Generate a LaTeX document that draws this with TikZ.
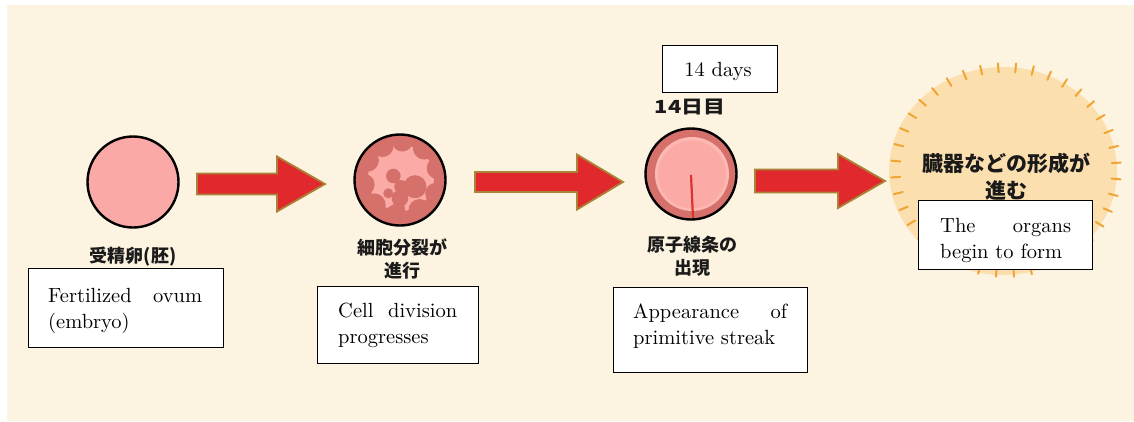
\documentclass[tikz,border=0pt]{standalone}
\usepackage{fontspec}
\newfontfamily\jpfont{Noto Sans CJK JP}
\newfontfamily\boxfont{lmroman10-regular}[Extension=.otf]
\usetikzlibrary{shapes.geometric}

\definecolor{cream}{HTML}{FDF3E1}
\definecolor{ovumpink}{HTML}{FBA9A6}
\definecolor{cellred}{HTML}{D5706B}
\definecolor{palepink}{HTML}{FBAAA5}
\definecolor{paleedge}{HTML}{FCB9B3}
\definecolor{arrowred}{HTML}{E1282D}
\definecolor{arrowedge}{HTML}{A98436}
\definecolor{streakred}{HTML}{D9342E}
\definecolor{sunfill}{HTML}{FCDFAE}
\definecolor{suntick}{HTML}{F0A433}
\definecolor{jpink}{HTML}{1A1A1A}

% block arrow: start x, head x, tip x, centre y, half shaft, half head
\newcommand\blockarrow[6]{%
  \draw[bigarrow] (#1,#4-#5) -- (#2,#4-#5) -- (#2,#4-#6) -- (#3,#4)
    -- (#2,#4+#6) -- (#2,#4+#5) -- (#1,#4+#5) -- cycle;}

\begin{document}
\begin{tikzpicture}[x=1pt,y=-1pt,
  textbox/.style={draw=black, line width=1.2pt, fill=white, anchor=north west, inner sep=0pt},
  boxtext/.style={anchor=base west, inner sep=0pt, align=left,
    font=\boxfont\fontsize{20.5}{26}\selectfont},
  jplabel/.style={font=\jpfont\bfseries\fontsize{18}{23}\selectfont, text=jpink,
    align=center, inner sep=0pt},
  cell/.style={draw=black, line width=2.4pt, circle, minimum size=91pt, inner sep=0pt},
  bigarrow/.style={fill=arrowred, draw=arrowedge, line width=1.8pt, line join=miter},
  tick/.style={draw=suntick, line width=2pt, line cap=round}]

\useasboundingbox (0,0) rectangle (1134,421);
\fill[white] (0,0) rectangle (1134,421);
\fill[cream] (7,5) rectangle (1134,421);

% ---- stage 1: fertilized ovum
\node[cell, fill=ovumpink] (c1) at (133,182) {};
\node[jplabel] (l1) at (133,257) {受精卵(胚)};
\node[textbox, minimum width=195pt, minimum height=79pt] (b1) at (28,268) {};
\node[boxtext, text width=154pt] (t1) at (48,302) {Fertilized\hfill ovum\\(embryo)};

% ---- stage 2: cleavage
\node[cell, fill=cellred] (c2) at (400,180) {};
\coordinate (burst) at (401,178);
\begin{scope}
  \clip (c2.center) circle[radius=43pt];
  \fill[palepink] (burst) circle[radius=33pt];
  \foreach \a/\d/\r in {15/38/11, 52/38/11.5, 88/37/10.5, 120/37/11, 152/38/11.5,
                        190/38/11, 225/38/11.5, 262/38/11, 300/37/11, 336/38/10.5}
    \fill[cellred] ([shift={(\a:\d pt)}]burst) circle[radius=\r pt];
  \fill[cellred] (393.3,176) circle[radius=7.3pt];
  \fill[cellred] (415,186.7) circle[radius=11.5pt];
  \fill[cellred] (401,186.7) circle[radius=6.7pt];
  \fill[cellred] (388.3,193.3) circle[radius=5pt];
  \fill[cellred] (400,198.3) circle[radius=8.3pt];
  \fill[cellred] (398.3,208.3) circle[radius=6.7pt];
\end{scope}
\node[jplabel] (l2) at (402,258.5) {細胞分裂が\\進行};
\node[textbox, minimum width=161pt, minimum height=77pt] (b2) at (317,286) {};
\node[boxtext, text width=119pt] (t2) at (338,317) {Cell\hfill division\\progresses};

% ---- stage 3: primitive streak (day 14)
\node[textbox, minimum width=115pt, minimum height=47pt] (b5) at (662,45) {};
\node[anchor=base, inner sep=0pt, font=\boxfont\fontsize{20.5}{26}\selectfont] (t5) at (718,76) {14 days};
\node[jplabel, font=\jpfont\bfseries\fontsize{19}{22}\selectfont] (day) at (690,107)
  {\scalebox{1.15}[0.95]{14日目}};
\node[cell, fill=cellred] (c3) at (691,174) {};
\fill[paleedge] (692,174) circle[radius=37pt];
\fill[palepink] (692,174.5) circle[radius=34pt];
\coordinate (s1) at (691,175);
\coordinate (s2) at (693,218);
\draw[streakred, line width=2.2pt] (s1) -- (s2);
\node[jplabel] (l3) at (692,256) {原子線条の\\出現};
\node[textbox, minimum width=194pt, minimum height=85pt] (b3) at (613,287) {};
\node[boxtext, text width=154pt] (t3) at (633,318) {Appearance\hfill of\\primitive streak};

% ---- stage 4: organogenesis
\node[ellipse, fill=sunfill, minimum width=228pt, minimum height=208pt, inner sep=0pt] (sun) at (1003,171) {};
\foreach \a in {4,13,...,360}
  \draw[tick] ({1006+106*cos(\a)},{170-98*sin(\a)}) -- ({1006+115*cos(\a)},{170-107*sin(\a)});
\node[jplabel, font=\jpfont\bfseries\fontsize{21}{27}\selectfont] (l4) at (1006,176.5) {臓器などの形成が\\進む};
\node[textbox, minimum width=174pt, minimum height=69pt] (b4) at (918,200) {};
\node[boxtext, text width=131pt] (t4) at (940,232) {The\hfill organs\\begin to form};

% ---- arrows between the stages
\blockarrow{197}{277}{325}{184}{10.5}{27.5}
\blockarrow{475}{577}{623}{182}{10}{27.5}
\blockarrow{755}{838}{885}{181}{11.5}{27}

\end{tikzpicture}
\end{document}
